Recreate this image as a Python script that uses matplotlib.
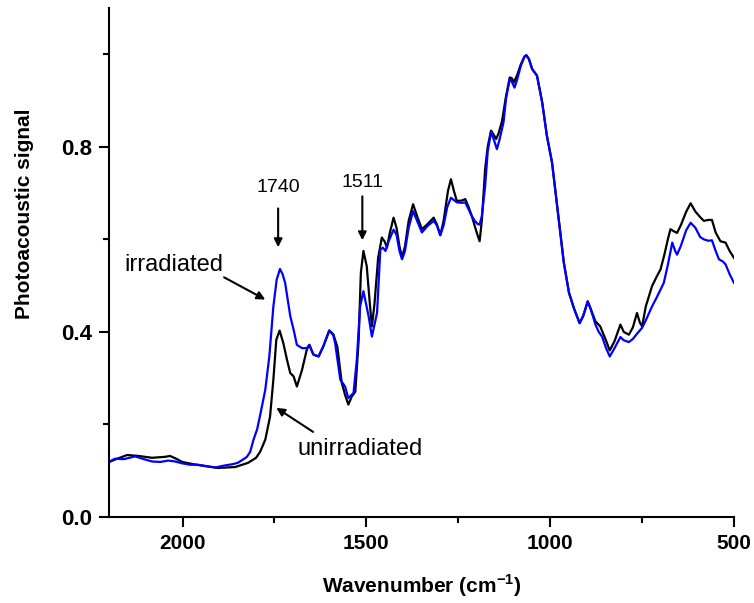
import matplotlib
matplotlib.use("Agg")
from matplotlib import pyplot as plt
from matplotlib.ticker import MultipleLocator

plt.rcParams['font.family'] = ['Liberation Sans', 'DejaVu Sans']
plt.rcParams['mathtext.fontset'] = 'custom'
plt.rcParams['mathtext.rm'] = 'Liberation Sans:bold'
plt.rcParams['mathtext.bf'] = 'Liberation Sans:bold'

# unirradiated (black)
wn_un = [2200, 2184, 2151, 2120, 2083, 2048, 2034, 2015, 2001, 1970, 1939, 1903, 1880, 1857,
         1822, 1800, 1789, 1775, 1762, 1753, 1745, 1736, 1726, 1716, 1707, 1698, 1689, 1675,
         1662, 1655, 1650, 1644, 1630, 1617, 1601, 1590, 1579, 1567, 1558, 1549, 1540, 1530,
         1521, 1515, 1508, 1499, 1490, 1485, 1478, 1468, 1458, 1450, 1444, 1436,
         1426, 1418, 1410, 1403, 1395, 1385, 1373, 1362, 1349, 1335, 1317, 1308, 1299, 1290,
         1278, 1270, 1262, 1254, 1240, 1231, 1222, 1213, 1200, 1192, 1186, 1177, 1170, 1161,
         1155, 1147, 1140, 1131, 1120, 1110, 1104, 1099, 1090, 1080, 1070, 1065, 1058, 1049,
         1036, 1022, 1009, 995, 981, 972, 963, 949, 935, 920, 910, 898, 890, 877, 864, 850,
         838, 825, 809, 800, 786, 775, 764, 756, 750, 740, 723, 710, 700, 690, 680, 673, 665,
         655, 645, 630, 618, 605, 592, 582, 570, 560, 550, 537, 523, 512, 500]
sig_un = [0.119, 0.124, 0.134, 0.132, 0.128, 0.130, 0.132, 0.125, 0.119, 0.114, 0.110, 0.106,
          0.107, 0.108, 0.117, 0.128, 0.141, 0.167, 0.217, 0.297, 0.383, 0.403, 0.376, 0.340,
          0.311, 0.304, 0.282, 0.318, 0.362, 0.372, 0.362, 0.351, 0.347, 0.369, 0.403, 0.395,
          0.368, 0.290, 0.264, 0.243, 0.260, 0.271, 0.383, 0.528, 0.575, 0.542, 0.455, 0.412,
          0.460, 0.560, 0.604, 0.595, 0.582, 0.615, 0.647, 0.625, 0.585, 0.561,
          0.585, 0.640, 0.676, 0.650, 0.622, 0.632, 0.647, 0.632, 0.609, 0.640, 0.705, 0.730,
          0.705, 0.683, 0.684, 0.687, 0.670, 0.650, 0.615, 0.596, 0.640, 0.752, 0.800, 0.835,
          0.828, 0.817, 0.830, 0.856, 0.910, 0.950, 0.948, 0.939, 0.955, 0.978, 0.995, 0.998,
          0.990, 0.968, 0.954, 0.897, 0.824, 0.766, 0.672, 0.611, 0.550, 0.485, 0.450, 0.419,
          0.435, 0.466, 0.450, 0.423, 0.412, 0.385, 0.360, 0.380, 0.416, 0.400, 0.394, 0.410,
          0.441, 0.420, 0.412, 0.455, 0.499, 0.520, 0.535, 0.565, 0.600, 0.622, 0.618, 0.614,
          0.630, 0.660, 0.678, 0.660, 0.648, 0.640, 0.642, 0.642, 0.615, 0.596, 0.593, 0.575,
          0.560]

# irradiated (blue)
wn_ir = [2200, 2184, 2160, 2129, 2105, 2083, 2060, 2039, 2020, 2001, 1980, 1958, 1935, 1911,
         1888, 1865, 1850, 1838, 1825, 1816, 1807, 1797, 1789, 1775, 1764, 1753, 1744, 1735,
         1728, 1721, 1707, 1698, 1689, 1675, 1662, 1655, 1650, 1644, 1630, 1617, 1601, 1590,
         1585, 1571, 1558, 1549, 1535, 1526, 1517, 1508, 1494, 1485, 1471, 1462, 1455, 1448,
         1440, 1426, 1418, 1410,
         1403, 1395, 1385, 1373, 1362, 1349, 1335, 1317, 1308, 1299, 1290, 1280, 1270, 1262,
         1254, 1240, 1231, 1222, 1213, 1205, 1197, 1192, 1186, 1177, 1170, 1161, 1153, 1145,
         1138, 1127, 1120, 1110, 1104, 1097, 1090, 1080, 1070, 1065, 1058, 1049, 1036, 1022,
         1009, 995, 981, 972, 963, 949, 935, 920, 910, 898, 890, 877, 868, 859, 848, 838, 825,
         809, 800, 786, 775, 764, 750, 740, 723, 710, 691, 680, 668, 660, 655, 645, 630, 618,
         605, 592, 582, 570, 560, 550, 541, 530, 523, 512, 500]
sig_ir = [0.119, 0.126, 0.125, 0.131, 0.125, 0.120, 0.119, 0.122, 0.120, 0.116, 0.113, 0.113,
          0.110, 0.107, 0.111, 0.114, 0.117, 0.123, 0.130, 0.141, 0.167, 0.190, 0.220, 0.275,
          0.347, 0.455, 0.513, 0.536, 0.525, 0.506, 0.434, 0.405, 0.372, 0.365, 0.365, 0.372,
          0.362, 0.351, 0.347, 0.369, 0.403, 0.393, 0.376, 0.297, 0.282, 0.257, 0.268, 0.340,
          0.455, 0.488, 0.434, 0.390, 0.441, 0.578, 0.582, 0.575, 0.595, 0.621, 0.610, 0.575,
          0.557, 0.575,
          0.625, 0.661, 0.640, 0.615, 0.628, 0.640, 0.630, 0.609, 0.630, 0.670, 0.690, 0.685,
          0.680, 0.679, 0.680, 0.665, 0.650, 0.640, 0.633, 0.632, 0.650, 0.715, 0.790, 0.832,
          0.815, 0.795, 0.815, 0.853, 0.905, 0.946, 0.940, 0.928, 0.945, 0.975, 0.995, 0.998,
          0.990, 0.968, 0.954, 0.897, 0.824, 0.766, 0.672, 0.611, 0.550, 0.485, 0.450, 0.419,
          0.435, 0.466, 0.450, 0.416, 0.400, 0.390, 0.365, 0.347, 0.365, 0.389, 0.382, 0.378,
          0.385, 0.396, 0.409, 0.425, 0.455, 0.475, 0.506, 0.545, 0.593, 0.575, 0.567, 0.585,
          0.620, 0.636, 0.625, 0.605, 0.600, 0.597, 0.598, 0.575, 0.557, 0.552, 0.546, 0.525,
          0.506]

fig = plt.figure(figsize=(7.54, 6.03), dpi=100)
ax = fig.add_axes([0.1446, 0.1426, 0.8289, 0.8441])

ax.plot(wn_un, sig_un, color='black', lw=1.6)
ax.plot(wn_ir, sig_ir, color='#0000ff', lw=1.6)

ax.set_xlim(2200, 500)
ax.set_ylim(0, 1.1)
ax.xaxis.set_major_locator(MultipleLocator(500))
ax.xaxis.set_minor_locator(MultipleLocator(250))
ax.yaxis.set_major_locator(MultipleLocator(0.4))
ax.yaxis.set_minor_locator(MultipleLocator(0.2))
ax.yaxis.set_major_formatter(plt.FormatStrFormatter('%.1f'))

for s in ['top', 'right']:
    ax.spines[s].set_visible(False)
for s in ['left', 'bottom']:
    ax.spines[s].set_linewidth(1.5)
ax.tick_params(which='major', direction='out', length=7, width=1.5, labelsize=15, pad=5)
ax.tick_params(axis='y', which='major', labelsize=16)
ax.tick_params(which='minor', direction='out', length=4, width=1.5)
for lab in ax.get_xticklabels() + ax.get_yticklabels():
    lab.set_fontweight('bold')

ax.set_xlabel('Wavenumber (cm$^{-1}$)', fontsize=15, fontweight='bold', labelpad=14)
ax.set_ylabel('Photoacoustic signal', fontsize=15, fontweight='bold')
ax.yaxis.set_label_coords(-0.120, 0.595)

arrow = dict(arrowstyle='-|>', color='black', lw=1.5, mutation_scale=12, shrinkA=0, shrinkB=0)
ax.text(1740, 0.712, '1740', fontsize=14, ha='center', va='center')
ax.annotate('', xy=(1740, 0.583), xytext=(1740, 0.667), arrowprops=arrow)
ax.text(1511, 0.722, '1511', fontsize=14, ha='center', va='center')
ax.annotate('', xy=(1511, 0.598), xytext=(1511, 0.693), arrowprops=arrow)
ax.text(2023, 0.544, 'irradiated', fontsize=17, ha='center', va='center')
ax.annotate('', xy=(1775, 0.470), xytext=(1887, 0.518), arrowprops=arrow)
ax.text(1517, 0.147, 'unirradiated', fontsize=17, ha='center', va='center')
ax.annotate('', xy=(1745, 0.236), xytext=(1645, 0.184), arrowprops=arrow)

fig.savefig('out.png', dpi=100)
